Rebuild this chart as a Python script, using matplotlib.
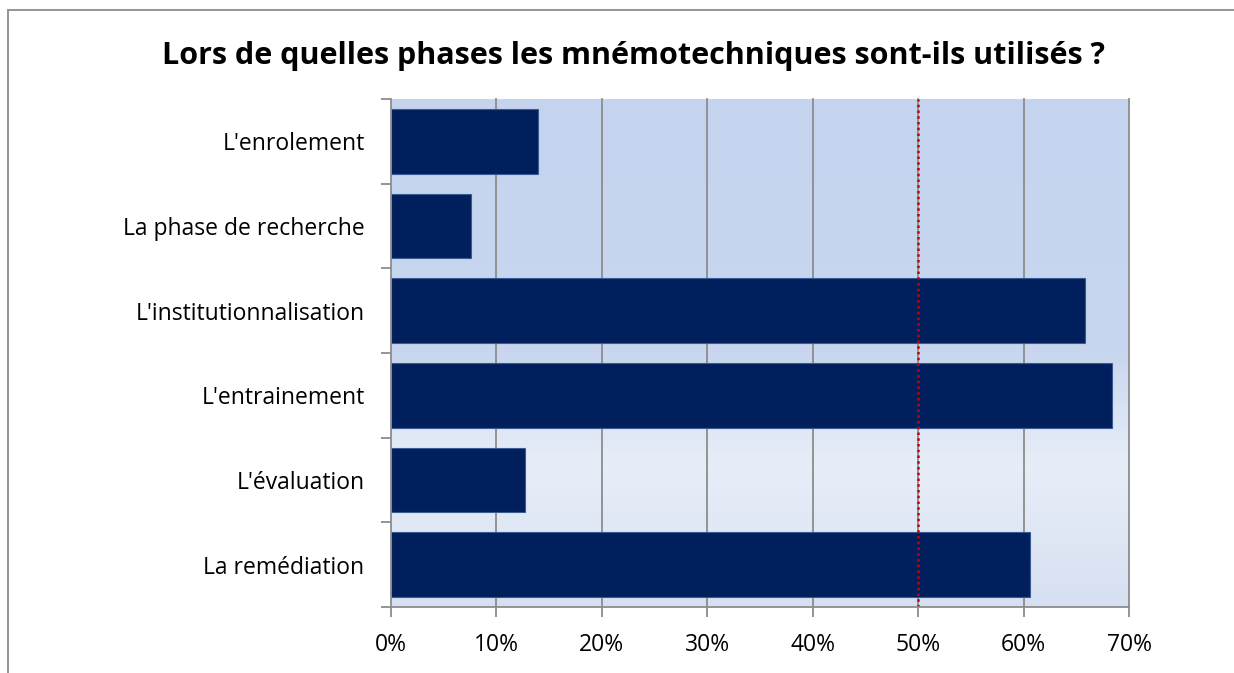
import numpy as np
import matplotlib
matplotlib.use("Agg")
import matplotlib.pyplot as plt
from matplotlib.colors import LinearSegmentedColormap
from matplotlib.patches import Rectangle

# données (en %)
phases = ["L'enrolement", "La phase de recherche", "L'institutionnalisation",
          "L'entrainement", "L'évaluation", "La remédiation"]
pourcentages = [13.9, 7.6, 65.8, 68.4, 12.7, 60.6]
x_ticks = [0, 10, 20, 30, 40, 50, 60, 70]
x_labels = ["0%", "10%", "20%", "30%", "40%", "50%", "60%", "70%"]
seuil = 50
titre = "Lors de quelles phases les mnémotechniques sont-ils utilisés ?"

plt.rcParams['font.family'] = ['Open Sans', 'DejaVu Sans']

fig = plt.figure(figsize=(12.34, 6.73), dpi=100)
ax = fig.add_axes([391 / 1234, 1 - 607 / 673, (1129 - 391) / 1234, (607 - 99) / 673])

n = len(phases)
y = np.arange(n)

# fond dégradé façon Excel
fond = LinearSegmentedColormap.from_list(
    "fond", [(0.0, "#c4d4ee"), (0.5, "#c8d7ef"), (0.72, "#e8eef8"), (1.0, "#d7e0f2")])
grad = np.linspace(0, 1, 256).reshape(-1, 1)
ax.imshow(grad, cmap=fond, aspect="auto", extent=[0, 70, n - 0.5, -0.5], zorder=0)

ax.barh(y, pourcentages, height=0.76, color="#001f5c", edgecolor="#3b5a92",
        linewidth=0.8, zorder=3)

for xv in x_ticks[1:]:
    ax.axvline(xv, color="#8c8c8c", lw=1.3, zorder=2, clip_on=False)
ax.axvline(seuil, color="#c8000a", lw=1.8, ls=(0, (1, 1.3)), zorder=4)

ax.set_xlim(0, 70)
ax.set_ylim(n - 0.5, -0.5)
ax.set_xticks(x_ticks)
ax.set_xticklabels(x_labels)
ax.set_yticks(y)
ax.set_yticklabels(phases)
ax.set_yticks(np.arange(-0.5, n), minor=True)

ax.tick_params(axis="x", direction="out", length=7, width=1.3, color="#8c8c8c",
               labelsize=16.5, pad=12, labelcolor="black")
ax.tick_params(axis="y", which="major", length=0, pad=19, labelsize=16.5, labelcolor="black")
ax.tick_params(axis="y", which="minor", direction="out", length=7, width=1.3, color="#8c8c8c")

for side in ["top", "right"]:
    ax.spines[side].set_visible(False)
for side in ["left", "bottom"]:
    ax.spines[side].set_color("#8c8c8c")
    ax.spines[side].set_linewidth(1.3)
    ax.spines[side].set_zorder(5)

fig.text(634 / 1234, 1 - 64 / 673, titre, ha="center", va="baseline",
         fontsize=22, fontweight="bold")

# cadre du graphique
fig.patches.append(Rectangle((8 / 1234, -0.1), 1.2, 1.1 - 10 / 673, transform=fig.transFigure,
                             fill=False, edgecolor="#8c8c8c", lw=1.3))

fig.savefig("out.png", dpi=100)
